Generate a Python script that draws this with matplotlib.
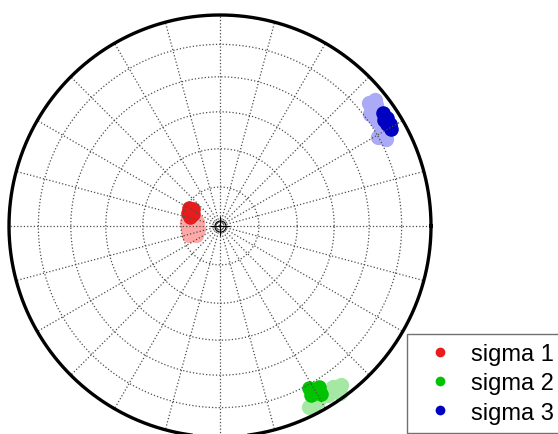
"""Equal-area stereonet of principal stress axes (lower hemisphere)."""

import matplotlib.pyplot as plt
import numpy as np
from matplotlib.lines import Line2D

plt.rcParams["font.family"] = ["Liberation Sans", "DejaVu Sans"]

# trend / plunge in degrees; "_a" = all solutions, "_b" = best-fit subset
s1_trend_a = [276.9, 279.9, 264.6, 262.2, 253.8, 249.4]
s1_plunge_a = [77.2, 81.0, 77.6, 81.5, 77.6, 80.1]
s1_trend_b = [300.1, 302.2, 292.1, 294.0, 286.7]
s1_plunge_b = [76.2, 77.7, 76.7, 78.6, 78.0]

s2_trend_a = [153.8, 150.8, 147.4, 144.1, 142.7, 148.6, 144.9, 152.8, 144.3]
s2_plunge_a = [4.9, 5.5, 5.5, 5.2, 5.9, 8.1, 7.5, 4.0, 2.9]
s2_trend_b = [151.2, 148.4, 149.0, 151.7, 150.1]
s2_plunge_b = [13.5, 11.4, 7.9, 9.9, 10.7]

s3_trend_a = [50.5, 53.1, 56.2, 59.5, 62.3, 59.5, 52.2, 50.9, 53.3, 60.6, 51.8]
s3_plunge_a = [9.3, 10.2, 11.5, 12.4, 12.2, 8.4, 7.2, 6.0, 12.3, 15.2, 9.8]
s3_trend_b = [55.3, 57.1, 59.0, 60.4, 57.1, 58.6]
s3_plunge_b = [6.7, 6.4, 6.7, 7.6, 8.2, 8.0]

labels = ["sigma 1", "sigma 2", "sigma 3"]
dark = ["#e81c1c", "#00c400", "#0000c0"]
light = ["#ffa8a8", "#a4e8a4", "#aaaaf6"]


def project(trend, plunge):
    """Lambert equal-area projection, primitive circle of radius 1."""
    t = np.radians(np.asarray(trend, dtype=float))
    colat = np.radians(90.0 - np.asarray(plunge, dtype=float))
    r = np.sqrt(2.0) * np.sin(colat / 2.0)
    return r * np.sin(t), r * np.cos(t)


def stereonet(fig_path):
    fig = plt.figure(figsize=(5.58, 4.35), dpi=100)
    ax = fig.add_axes([0, 0, 1, 1])
    R = 211.0
    ax.set_xlim(-220 / R, (558 - 220) / R)
    ax.set_ylim(-(435 - 227) / R, 227 / R)
    ax.axis("off")

    sets = [(s1_trend_a, s1_plunge_a, s1_trend_b, s1_plunge_b),
            (s2_trend_a, s2_plunge_a, s2_trend_b, s2_plunge_b),
            (s3_trend_a, s3_plunge_a, s3_trend_b, s3_plunge_b)]
    for k, (ta, pa, tb, pb) in enumerate(sets):
        x, y = project(ta, pa)
        ax.plot(x, y, "o", ms=11, color=light[k], mec="none", zorder=2)
        x, y = project(tb, pb)
        ax.plot(x, y, "o", ms=10.5, color=dark[k], mec="none", zorder=3)

    # dotted net: small circles every 15 deg of plunge, spokes every 15 deg
    phi = np.linspace(0, 2 * np.pi, 400)
    for colat in range(15, 90, 15):
        r = np.sqrt(2.0) * np.sin(np.radians(colat) / 2.0)
        ax.plot(r * np.cos(phi), r * np.sin(phi), ls=":", lw=0.9,
                color="0.3", zorder=4)
    for az in range(0, 360, 15):
        a = np.radians(az)
        ax.plot([0, np.sin(a)], [0, np.cos(a)], ls=":", lw=0.9,
                color="0.3", zorder=4)
    ax.plot(np.cos(phi), np.sin(phi), color="k", lw=2.4, zorder=5)

    # centre mark
    ax.plot(0, 0, "o", ms=8, mfc="none", mec="k", mew=0.8, zorder=6)
    ax.plot(0, 0, "+", ms=14, color="k", mew=0.8, zorder=6)

    handles = [Line2D([0], [0], ls="none", marker="o", ms=7, color=c, mec="none")
               for c in dark]
    fig.legend(handles, labels, loc="lower left",
               bbox_to_anchor=(407 / 558, 1 / 435), fontsize=17,
               frameon=True, fancybox=False, edgecolor="0.3",
               borderpad=0.4, handlelength=2.0, handletextpad=0.3,
               labelspacing=0.3, borderaxespad=0)
    fig.savefig(fig_path, dpi=100)
    plt.close(fig)


stereonet("out.png")
